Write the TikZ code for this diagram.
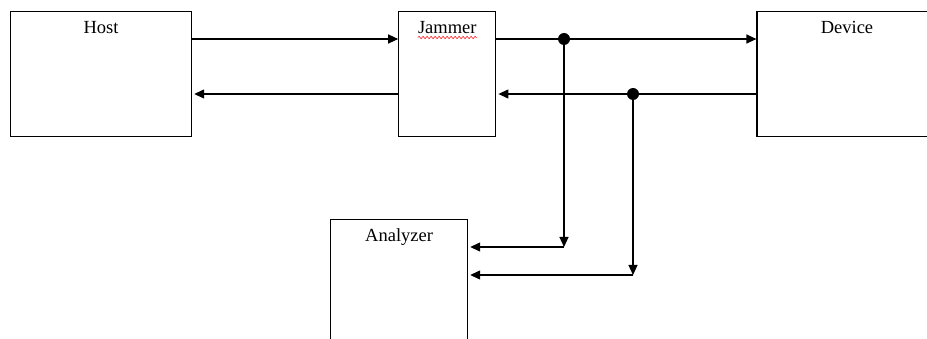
\documentclass[tikz,border=0pt]{standalone}
\usepackage{fontspec}
\setmainfont{Liberation Serif}
\usetikzlibrary{positioning,arrows.meta,decorations.pathmorphing}

\begin{document}
\begin{tikzpicture}[x=1pt,y=-1pt,node distance=206pt,
  boite/.style={draw,line width=1.2pt,minimum height=125pt,inner sep=0pt,anchor=north west},
  titre/.style={font=\fontsize{18.5}{20}\selectfont,anchor=base,inner sep=0pt},
  fleche/.style={-{Triangle[length=10pt,width=9pt]},line width=1.2pt},
  point/.style={circle,fill,inner sep=0pt,minimum size=12pt}]
\useasboundingbox (0,0) rectangle (927,339);
\node[boite,minimum width=181pt] (host) at (10,11) {};
\node[boite,minimum width=97pt,right=206pt of host.north east,anchor=north west] (jammer) {};
\node[boite,minimum width=180pt,right=260pt of jammer.north east,anchor=north west] (device) {};
\node[boite,minimum width=137pt] (analyzer) at (330,219) {};
\node[titre] (hostlbl) at ([yshift=-23pt]host.north) {Host};
\node[titre] (jammerlbl) at ([yshift=-23pt]jammer.north) {Jammer};
\node[titre] (devicelbl) at ([yshift=-23pt]device.north) {Device};
\node[titre] (analyzerlbl) at ([yshift=-23pt]analyzer.north) {Analyzer};
\draw[red,line width=0.5pt,decorate,decoration={snake,amplitude=1.2pt,segment length=4pt}]
  ([yshift=-3.5pt]jammerlbl.base west) -- ([yshift=-3.5pt]jammerlbl.base east);
\node[point] (tap1) at (564,39) {};
\node[point] (tap2) at (633,94) {};
\coordinate (bend1) at (564,247);
\coordinate (bend2) at (633,275);
\draw[fleche] (host.east |- tap1) -- (jammer.west |- tap1);
\draw[fleche] (jammer.west |- tap2) -- ([xshift=2pt]host.east |- tap2);
\draw[fleche] (jammer.east |- tap1) -- (device.west |- tap1);
\draw[fleche] (device.west |- tap2) -- ([xshift=2pt]jammer.east |- tap2);
\draw[fleche] (tap1.center) -- (bend1);
\draw[fleche] (bend1) -- ([xshift=2pt]analyzer.east |- bend1);
\draw[fleche] (tap2.center) -- (bend2);
\draw[fleche] (bend2) -- ([xshift=2pt]analyzer.east |- bend2);
\end{tikzpicture}
\end{document}
